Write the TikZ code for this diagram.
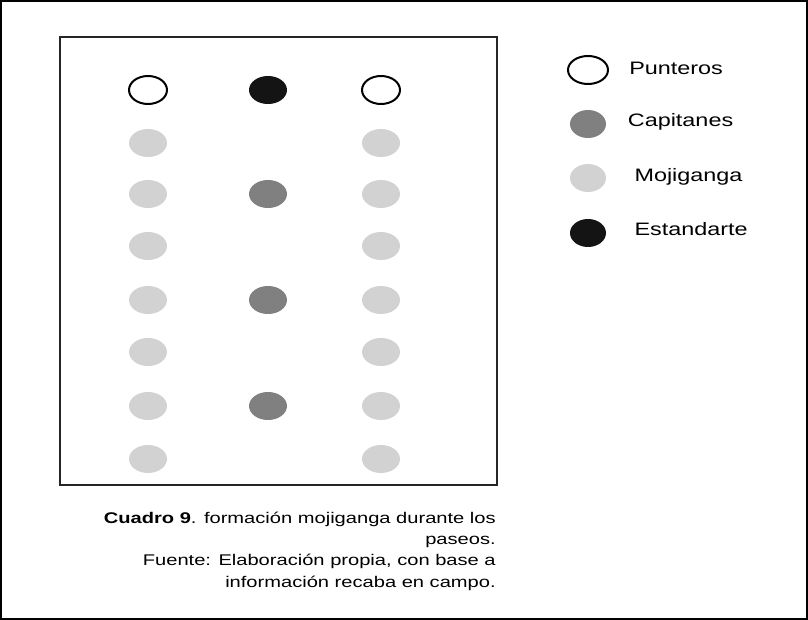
\documentclass[tikz,border=0pt]{standalone}
\usepackage{fontspec}
\setmainfont{Liberation Sans}
\usepackage{graphicx}
\usetikzlibrary{shapes.geometric}
\usetikzlibrary{positioning}

\definecolor{capgray}{HTML}{808080}
\definecolor{mojgray}{HTML}{D2D2D2}
\newcommand{\ancho}[1]{\scalebox{1.3}[1]{#1}}

\begin{document}
\begin{tikzpicture}[x=0.75pt,y=-0.75pt,
	dot/.style={ellipse,inner sep=0pt,minimum width=28.5pt,minimum height=21pt},
	punt node/.style={dot,draw=black,line width=1.5pt,fill=white},
	cap node/.style={dot,fill=capgray},
	moj node/.style={dot,fill=mojgray},
	est node/.style={dot,fill=black!92},
	key text/.style={font=\fontsize{13.5}{16}\selectfont,inner sep=0pt}]
	
	\useasboundingbox (0,0) rectangle (808,620);
	\draw[line width=1.5pt] (1,1) rectangle (807,619);
	\draw[line width=0.9pt,black!85] (60,37) rectangle (497,485);
	
	% front row
	\node[punt node] (pl) at (148,90) {};
	\node[est node] (est) at (268,90) {};
	\node[punt node] (pr) at (381,90) {};
	
	% side columns
	\foreach \y [count=\i] in {143,194,246,300,352,406,459}{
		\node[moj node] (ml\i) at (148,\y) {};
		\node[moj node] (mr\i) at (381,\y) {};
	}
	
	% middle column
	\foreach \y [count=\i] in {194,300,406}
	\node[cap node] (cap\i) at (268,\y) {};
	
	% legend
	\node[punt node,minimum width=30pt] (kp) at (588,70) {};
	\node[cap node,minimum width=27pt] (kc) at (588,124) {};
	\node[moj node,minimum width=27pt] (km) at (588,178) {};
	\node[est node,minimum width=27pt] (ke) at (588,233) {};
	
	\node[key text] (tp) [right=15pt of kp,yshift=1.5pt] {\ancho{Punteros}};
	\node[key text] (tc) [right=16pt of kc,yshift=1.5pt] {\ancho{Capitanes}};
	\node[key text] (tm) [right=21pt of km,yshift=1pt] {\ancho{Mojiganga}};
	\node[key text] (te) [right=21pt of ke,yshift=3pt] {\ancho{Estandarte}};
	
	% caption
	\node[anchor=north east,inner sep=0pt,font=\fontsize{11.6}{16}\selectfont] (cuadro) at (496,508)
	{\ancho{\begin{tabular}{@{}r@{}}
				\textbf{Cuadro 9}. formación mojiganga durante los\\
				paseos.\\
				Fuente: Elaboración propia, con base a\\
				información recaba en campo.
	\end{tabular}}};
\end{tikzpicture}
\end{document}
